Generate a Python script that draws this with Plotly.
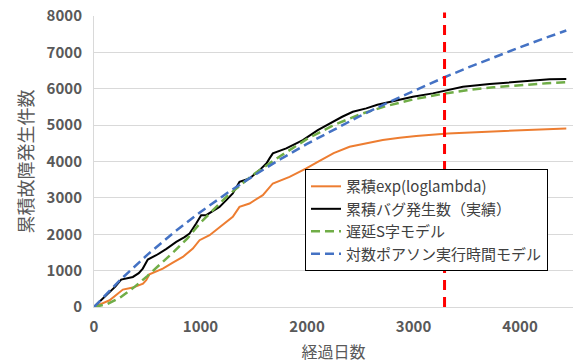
import plotly.graph_objects as go

# --- data ---
orange_x = [0, 146, 271, 365, 460, 490, 521, 646, 740, 834, 928, 991, 1085, 1209, 1303, 1366, 1460,
            1585, 1679, 1836, 1993, 2101, 2250, 2399, 2550, 2711, 2870, 3025, 3322, 3557, 3800, 4026, 4434]
orange_y = [0, 185, 479, 534, 640, 735, 900, 1057, 1220, 1376, 1607, 1836, 1974, 2249, 2477, 2752, 2846,
            3074, 3396, 3578, 3809, 3991, 4230, 4404, 4500, 4589, 4650, 4699, 4772, 4805, 4835, 4864, 4910]

black_x = [0, 83, 146, 200, 255, 300, 365, 420, 458, 505, 584, 680, 772, 850, 897, 959, 1006, 1053,
           1120, 1178, 1240, 1303, 1366, 1460, 1554, 1620, 1648, 1679, 1805, 1961, 2101, 2242, 2330,
           2430, 2556, 2660, 2775, 2880, 2993, 3181, 3291, 3463, 3714, 4026, 4277, 4434]
black_y = [0, 230, 413, 560, 754, 790, 826, 930, 1057, 1305, 1423, 1600, 1789, 1920, 2020, 2295, 2524, 2524,
           2640, 2752, 2930, 3121, 3441, 3533, 3763, 3950, 4085, 4222, 4360, 4589, 4864, 5092, 5230,
           5367, 5461, 5560, 5643, 5710, 5780, 5873, 5950, 6056, 6130, 6193, 6259, 6267]

green_x = [0, 125, 250, 375, 500, 625, 750, 875, 1000, 1250, 1500, 1750, 2000, 2250, 2500, 2750,
           3000, 3291, 3500, 3750, 4000, 4250, 4434]
green_y = [0, 80, 270, 540, 850, 1180, 1520, 1880, 2320, 3050, 3650, 4150, 4620, 5000, 5300, 5530,
           5710, 5870, 5960, 6040, 6100, 6150, 6180]

blue_x = [0, 250, 500, 750, 1000, 1250, 1500, 1750, 2000, 2250, 2500, 2750, 3000, 3291, 3500, 3750,
          4000, 4250, 4434]
blue_y = [0, 755, 1433, 2049, 2613, 3132, 3614, 4064, 4484, 4880, 5254, 5608, 5944, 6316, 6570, 6862,
          7142, 7410, 7600]

cutoff_day = 3291

names = ["累積exp(loglambda)", "累積バグ発生数（実績）", "遅延S字モデル", "対数ポアソン実行時間モデル"]

FONT = "Noto Sans CJK JP"
GREY = "#595959"

fig = go.Figure()
fig.add_trace(go.Scatter(x=orange_x, y=orange_y, mode="lines", name=names[0],
                         line=dict(color="#ED7D31", width=2)))
fig.add_trace(go.Scatter(x=black_x, y=black_y, mode="lines", name=names[1],
                         line=dict(color="#000000", width=2)))
fig.add_trace(go.Scatter(x=green_x, y=green_y, mode="lines", name=names[2],
                         line=dict(color="#70AD47", width=2.5, dash="9px,5px")))
fig.add_trace(go.Scatter(x=blue_x, y=blue_y, mode="lines", name=names[3],
                         line=dict(color="#4472C4", width=2.5, dash="9px,5px")))

fig.add_shape(type="line", xref="x", yref="paper", x0=cutoff_day, x1=cutoff_day, y0=0, y1=1.012,
              line=dict(color="#FF0000", width=3, dash="10px,7px"))

fig.update_layout(
    width=573, height=363,
    margin=dict(l=94, r=0, t=16, b=56),
    paper_bgcolor="white", plot_bgcolor="white",
    font=dict(family=FONT, color=GREY),
    showlegend=True,
    legend=dict(x=0.4405, y=0.474, xanchor="left", yanchor="top",
                bgcolor="white", bordercolor="#000000", borderwidth=1,
                font=dict(family=FONT, size=15, color="#404040"),
                itemwidth=30, tracegroupgap=0),
)
fig.update_xaxes(range=[0, 4497], tickvals=[0, 1000, 2000, 3000, 4000],
                 showgrid=False, zeroline=False, showline=True, linecolor="#D9D9D9", linewidth=1,
                 tickfont=dict(family=FONT, size=15, color=GREY, weight="bold"),
                 ticklabelstandoff=6,
                 title=dict(text="経過日数", font=dict(family=FONT, size=16, color=GREY), standoff=14))
fig.update_yaxes(range=[0, 8000], tickvals=[0, 1000, 2000, 3000, 4000, 5000, 6000, 7000, 8000],
                 showgrid=True, gridcolor="#D9D9D9", gridwidth=1, zeroline=False,
                 showline=True, linecolor="#D9D9D9", linewidth=1,
                 tickfont=dict(family=FONT, size=15, color=GREY, weight="bold"),
                 ticklabelstandoff=8,
                 title=dict(text="累積故障発生件数", font=dict(family=FONT, size=18, color=GREY), standoff=8))

fig.write_html("out.html")
